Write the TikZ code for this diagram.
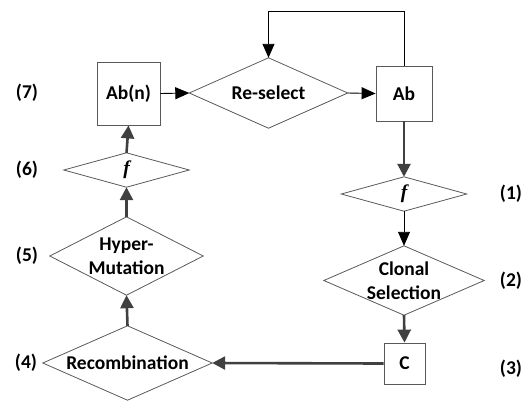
\documentclass[tikz,border=0pt]{standalone}
\usepackage{fontspec}
\setmainfont{Carlito}
\newfontfamily\ffont{Liberation Serif}
\usetikzlibrary{arrows.meta}
\definecolor{edgegray}{HTML}{404040}
\definecolor{shapegray}{HTML}{595959}
\begin{document}
\begin{tikzpicture}[x=1pt,y=-1pt,
  font=\fontsize{19.5}{23.5}\selectfont\bfseries,
  box/.style={draw=shapegray, line width=0.8pt, inner sep=0pt},
  dia/.style={inner sep=0pt, align=center},
  diaborder/.style={draw=shapegray, line width=0.8pt},
  lightarrow/.style={draw=black, line width=0.9pt, -{Triangle[length=14pt,width=12pt]}},
  heavyarrow/.style={draw=edgegray, line width=2.6pt, -{Triangle[length=13pt,width=13pt]}},
  steplabel/.style={inner sep=0pt}]
\useasboundingbox (0,0) rectangle (527,400);

\node[box, minimum width=63pt, minimum height=63pt] (abn) at (128.5,93.5) {Ab(n)};
\node[dia, minimum width=158pt, minimum height=70pt] (rs) at (268.5,93) {Re-select};
\node[box, minimum width=56pt, minimum height=55pt] (ab) at (404,93.5) {Ab};
\node[dia, minimum width=125pt, minimum height=34pt] (f1) at (404,194) {\ffont\bfseries\itshape f};
\node[dia, minimum width=160pt, minimum height=69pt] (cs) at (404,280.5) {Clonal\\Selection};
\node[box, minimum width=41pt, minimum height=41pt] (c) at (404.5,363.5) {C};
\node[dia, minimum width=169pt, minimum height=74pt] (rc) at (127.5,363) {Recombination};
\node[dia, minimum width=153pt, minimum height=78pt] (hm) at (126.5,256) {Hyper-\\Mutation};
\node[dia, minimum width=125pt, minimum height=34pt] (f6) at (126.5,170) {\ffont\bfseries\itshape f};

\foreach \n in {rs,f1,cs,rc,hm,f6}
  \draw[diaborder] (\n.north) -- (\n.east) -- (\n.south) -- (\n.west) -- cycle;

\draw[lightarrow] (abn.east) -- (rs.west);
\draw[lightarrow] (rs.east) -- (ab.west);
\draw[lightarrow] (ab.north) -- ++(0,-54) -| (rs.north);
\draw[heavyarrow] (ab.south) -- (f1.north);
\draw[lightarrow] (f1.south) -- (cs.north);
\draw[heavyarrow] (cs.south) -- (c.north);
\draw[heavyarrow] (c.west) -- (rc.east);
\draw[heavyarrow] (rc.north) -- (hm.south);
\draw[heavyarrow] (hm.north) -- (f6.south);
\draw[heavyarrow] (f6.north) -- (abn.south);

\node[steplabel] (l7) at (27,93) {(7)};
\node[steplabel] (l6) at (27,170) {(6)};
\node[steplabel] (l5) at (27,256) {(5)};
\node[steplabel] (l4) at (26,363) {(4)};
\node[steplabel] (l1) at (511,194) {(1)};
\node[steplabel] (l2) at (511,281) {(2)};
\node[steplabel] (l3) at (511,369) {(3)};
\end{tikzpicture}
\end{document}
